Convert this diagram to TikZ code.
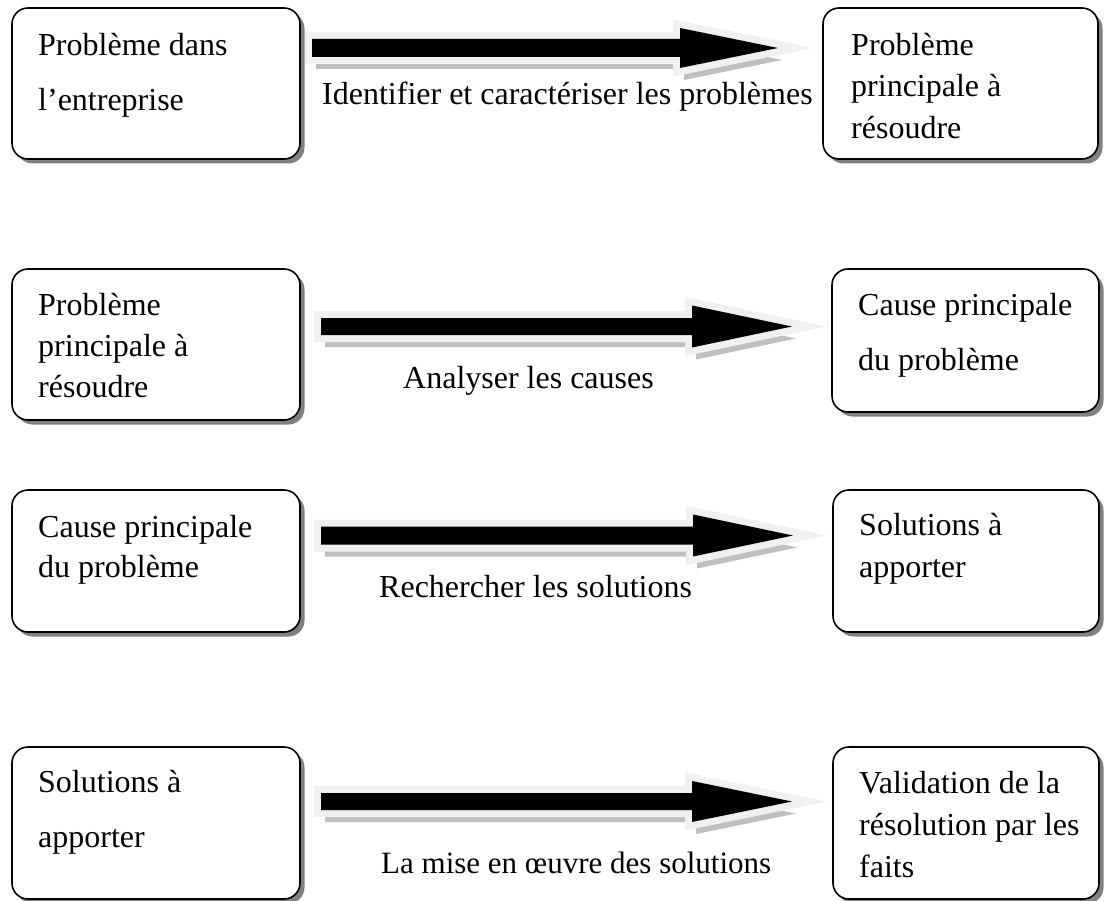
\documentclass[tikz,border=0pt]{standalone}
\usepackage{fontspec}
\setmainfont{Liberation Serif}
\usetikzlibrary{calc,shadows}
\tikzset{
  boxnode/.style={draw=black, line width=1.6pt, rounded corners=16pt, fill=white, inner sep=0pt,
    drop shadow={shadow xshift=4.5pt, shadow yshift=-4.5pt, fill=black!50, opacity=1}},
  boxtxt/.style={anchor=north west, inner sep=0pt, align=left},
  lbl/.style={anchor=base west, inner sep=0pt, font=\fontsize{32}{40}\selectfont},
  arrhalo/.style={draw=black!6, fill=black!6, line width=14pt, line join=miter, miter limit=10},
  arrshade/.style={fill=black!25},
  arrbody/.style={fill=black},
}
% #1 tail, #2 tip, #3 head length, #4 shaft half height, #5 head half height
\newcommand{\blockarr}[5]{%
  \fill[arrshade, transform canvas={shift={(4pt,-12pt)}}] ($(#1)+(0,-#4)$) -- ($(#2)+(-#3,-#4)$) -- ($(#2)+(-#3,-#5)$) -- (#2) -- ($(#2)+(-#3,#5)$) -- ($(#2)+(-#3,#4)$) -- ($(#1)+(0,#4)$) -- cycle;
  \filldraw[arrhalo] ($(#1)+(0,-#4)$) -- ($(#2)+(-#3,-#4)$) -- ($(#2)+(-#3,-#5)$) -- (#2) -- ($(#2)+(-#3,#5)$) -- ($(#2)+(-#3,#4)$) -- ($(#1)+(0,#4)$) -- cycle;
  \fill[arrbody] ($(#1)+(0,-#4)$) -- ($(#2)+(-#3,-#4)$) -- ($(#2)+(-#3,-#5)$) -- (#2) -- ($(#2)+(-#3,#5)$) -- ($(#2)+(-#3,#4)$) -- ($(#1)+(0,#4)$) -- cycle;
}
\begin{document}
\begin{tikzpicture}[x=1pt, y=-1pt]
\useasboundingbox (0,0) rectangle (1108,901);
\clip (0,0) rectangle (1108,901);
\fill[white] (0,0) rectangle (1108,901);

% boxes
\node[boxnode, minimum width=288pt, minimum height=151pt] (L1) at (156,83.5) {};
\node[boxnode, minimum width=275pt, minimum height=151pt] (R1) at (960.5,83.5) {};
\node[boxnode, minimum width=288pt, minimum height=151pt] (L2) at (156,344.5) {};
\node[boxnode, minimum width=267pt, minimum height=143pt] (R2) at (965.5,340.5) {};
\node[boxnode, minimum width=288pt, minimum height=142pt] (L3) at (156,561) {};
\node[boxnode, minimum width=266pt, minimum height=142pt] (R3) at (966,561) {};
\node[boxnode, minimum width=288pt, minimum height=152pt] (L4) at (156,823) {};
\node[boxnode, minimum width=266pt, minimum height=152pt] (R4) at (966,823) {};

% box texts
\node[boxtxt, font=\fontsize{32}{55}\selectfont] (tL1) at (38,28) {\rule{0pt}{27pt}Problème dans\\l’entreprise};
\node[boxtxt, font=\fontsize{32}{41.5}\selectfont] (tR1) at (851,28) {\rule{0pt}{27pt}Problème\\principale à\\résoudre};
\node[boxtxt, font=\fontsize{32}{41}\selectfont] (tL2) at (38,288) {\rule{0pt}{27pt}Problème\\principale à\\résoudre};
\node[boxtxt, font=\fontsize{32}{55}\selectfont] (tR2) at (858,288) {\rule{0pt}{27pt}Cause principale\\du problème};
\node[boxtxt, font=\fontsize{32}{40}\selectfont] (tL3) at (38,510) {\rule{0pt}{27pt}Cause principale\\du problème};
\node[boxtxt, font=\fontsize{32}{42}\selectfont] (tR3) at (859,508) {\rule{0pt}{27pt}Solutions à\\apporter};
\node[boxtxt, font=\fontsize{32}{55}\selectfont] (tL4) at (38,765) {\rule{0pt}{27pt}Solutions à\\apporter};
\node[boxtxt, font=\fontsize{32}{42}\selectfont] (tR4) at (859,766) {\rule{0pt}{27pt}Validation de la\\résolution par les\\faits};

% arrow end points
\coordinate (a1s) at (312,48);
\coordinate (a1e) at (778,48);
\coordinate (a2s) at (321,326.5);
\coordinate (a2e) at (792,326.5);
\coordinate (a3s) at (321,535.5);
\coordinate (a3e) at (793,535.5);
\coordinate (a4s) at (321,801.5);
\coordinate (a4e) at (792,801.5);

\blockarr{a1s}{a1e}{98}{9}{20}
\blockarr{a2s}{a2e}{100}{8.5}{21}
\blockarr{a3s}{a3e}{100}{9}{21}
\blockarr{a4s}{a4e}{100}{8.5}{20.5}

% arrow labels
\node[lbl] (l1) at (322,105) {Identifier et caractériser les problèmes};
\node[lbl] (l2) at (403,388) {Analyser les causes};
\node[lbl] (l3) at (379,597) {Rechercher les solutions};
\node[lbl, font=\fontsize{31}{40}\selectfont] (l4) at (381,873) {La mise en œuvre des solutions};
\end{tikzpicture}
\end{document}
